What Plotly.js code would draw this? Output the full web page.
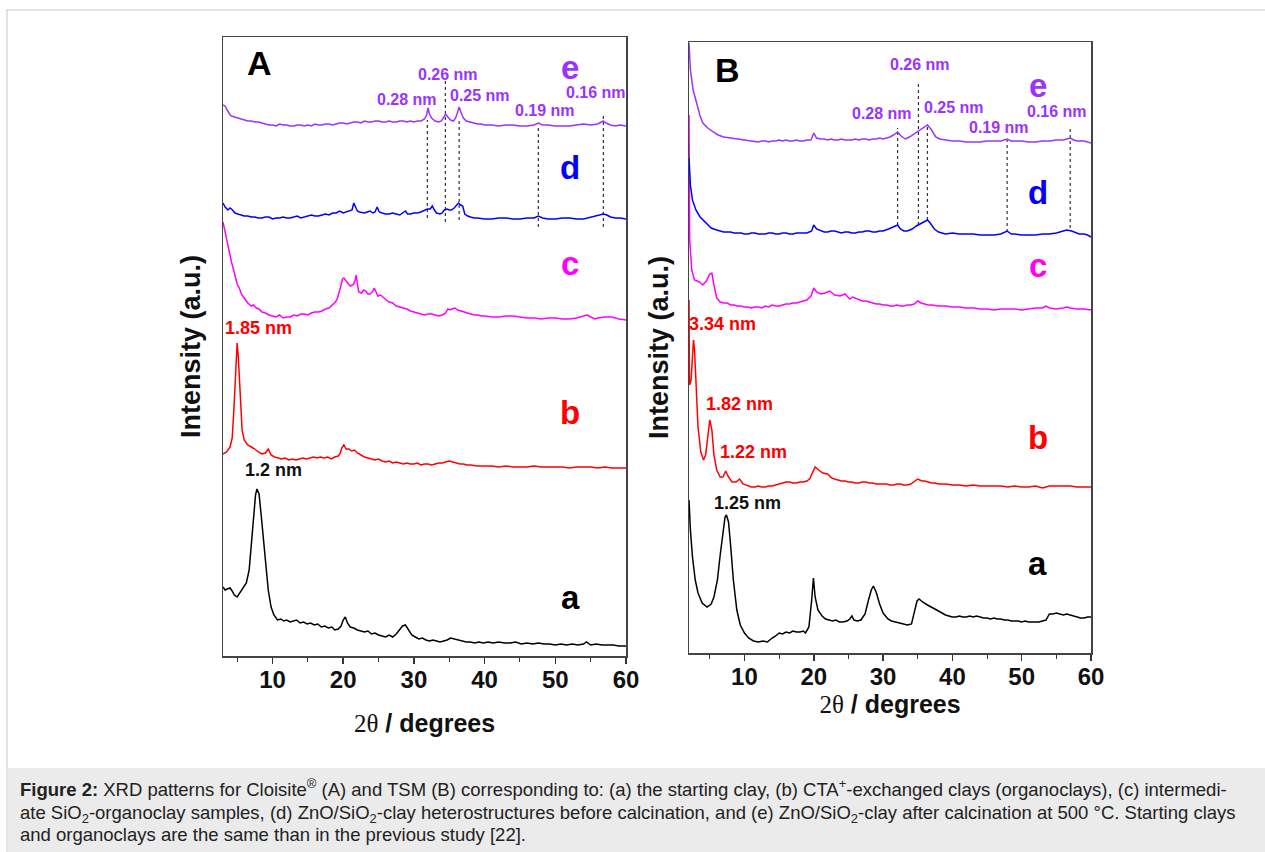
<!DOCTYPE html>
<html>
<head>
<meta charset="utf-8">
<script src="https://cdn.plot.ly/plotly-3.0.1.min.js"></script>
<style>
html,body{margin:0;padding:0;background:#fff;}
#chart{width:1265px;height:852px;}
</style>
</head>
<body>
<div id="chart"></div>
<script>
// ---------------- DATA (2θ in degrees, intensity in arbitrary units) ----------------
// Panel A : Cloisite
const A_a = [[3,69],[3.3,66],[3.6,67],[4,68],[4.3,65],[4.6,61],[5,59],[5.3,62],[5.7,66],[6,70],[6.3,73],[6.7,86],[7,111],[7.3,141],[7.6,161],[7.8,167],[8.1,162],[8.4,141],[8.7,116],[9,91],[9.4,66],[9.8,49],[10.2,41],[10.7,36],[11.2,37],[11.6,35],[12,36],[12.5,34],[13,35],[13.4,36],[13.9,33],[14.4,34],[14.9,32],[15.4,33],[15.9,31],[16.4,32],[16.9,29],[17.4,30],[17.9,28],[18.4,29],[18.8,26],[19.3,27],[19.7,30],[20,36],[20.3,39],[20.6,33],[21,29],[21.5,28],[22,26],[22.5,25],[23,24],[23.5,25],[24,22],[24.5,23],[25,21],[25.5,20],[26,19],[26.5,21],[27,19],[27.5,22],[28,26],[28.4,30],[28.8,31],[29.2,27],[29.7,21],[30.2,19],[30.7,17],[31.2,18],[31.7,16],[32.2,15],[32.7,16],[33.2,15],[33.7,14],[34.2,15],[34.7,16],[35.2,18],[35.7,17],[36.2,16],[36.8,15],[37.4,14],[38,14],[38.6,13],[39.2,14],[39.8,13],[40.5,14],[41.2,13],[42,14],[42.8,13],[43.6,13],[44.4,14],[45.2,12],[46,13],[46.8,12],[47.6,13],[48.4,12],[49.2,12],[50,11],[50.8,12],[51.6,11],[52.4,12],[53.2,11],[54,12],[54.4,14],[55,11],[55.8,12],[56.6,11],[57.4,11],[58.2,11],[59,10],[60,10]];
const A_b = [[3,202],[3.5,204],[4,209],[4.3,218],[4.5,241],[4.7,276],[4.85,301],[5,313],[5.15,301],[5.3,276],[5.5,246],[5.7,226],[6,216],[6.5,211],[7,209],[7.5,207],[8,204],[8.5,202],[9,203],[9.4,207],[9.8,201],[10.3,199],[10.8,198],[11.3,197],[11.8,198],[12.3,196],[12.8,197],[13.3,196],[13.8,197],[14.3,198],[14.8,197],[15.3,198],[15.8,199],[16.3,198],[16.8,199],[17.3,198],[17.8,199],[18.3,197],[18.8,199],[19.3,200],[19.6,203],[19.8,208],[20.1,211],[20.4,207],[20.8,207],[21.2,205],[21.6,206],[22,203],[22.5,201],[23,199],[23.5,198],[24,197],[24.5,196],[25,197],[25.5,195],[26,194],[26.5,195],[27,193],[27.5,194],[28,193],[28.5,192],[29,193],[29.5,192],[30,192],[30.5,193],[31,191],[31.5,192],[32,192],[32.5,191],[33,192],[33.5,193],[34,193],[34.5,194],[35,195],[35.5,194],[36,193],[36.5,192],[37,192],[37.5,191],[38,191],[39,190],[40,190],[41,190],[42,189],[43,190],[44,189],[45,189],[46,189],[47,190],[48,189],[49,189],[50,189],[51,189],[52,188],[53,189],[54,189],[55,189],[56,188],[57,189],[58,188],[59,188],[60,188]];
const A_c = [[3,434],[3.3,424],[3.5,418],[3.7,408],[3.9,404],[4.2,394],[4.5,386],[4.7,379],[5,372],[5.3,368],[5.6,362],[6,358],[6.5,353],[7,350],[7.3,351],[7.7,348],[8.1,347],[8.5,344],[9,343],[9.5,341],[10,340],[10.5,339],[11,341],[11.5,338],[12,339],[12.5,339],[13,341],[13.5,340],[14,342],[14.5,342],[15,341],[15.5,343],[16,344],[16.5,344],[17,345],[17.5,347],[18,348],[18.5,351],[18.9,354],[19.2,358],[19.5,365],[19.7,371],[19.9,377],[20.1,378],[20.4,375],[20.7,373],[21,370],[21.3,371],[21.5,372],[21.7,376],[21.85,381],[22,372],[22.2,364],[22.6,363],[22.9,366],[23.2,365],[23.5,362],[23.8,362],[24.1,364],[24.4,368],[24.6,364],[24.9,360],[25.3,361],[25.7,358],[26.1,356],[26.5,354],[27,353],[27.5,350],[28,349],[28.5,348],[29,347],[29.5,345],[30,344],[30.5,343],[31,342],[31.5,341],[32,342],[32.5,342],[33,341],[33.5,340],[34,341],[34.5,343],[34.8,347],[35.1,346],[35.4,347],[35.8,348],[36.2,346],[36.6,345],[37,344],[37.5,343],[38,342],[38.5,341],[39,341],[39.5,340],[40,340],[41,339],[42,339],[43,340],[44,340],[45,339],[46,338],[47,338],[48,337],[49,338],[50,338],[51,337],[52,337],[53,338],[54,340],[54.5,341],[55,339],[55.6,337],[56,338],[57,339],[58,339],[59,337],[60,336]];
const A_d = [[3,453],[3.3,449],[3.7,446],[4,448],[4.2,447],[4.5,444],[4.7,443],[5.1,442],[5.5,441],[6,440],[6.5,440],[7,439],[7.5,439],[8,438],[8.5,438],[9,439],[9.5,439],[10,437],[10.5,438],[11,438],[11.5,439],[12,438],[12.5,438],[13,439],[13.5,440],[14,438],[14.5,439],[15,440],[15.5,441],[16,440],[16.5,440],[17,441],[17.5,442],[18,441],[18.5,443],[19,443],[19.5,445],[20,443],[20.5,444],[21,445],[21.25,446],[21.5,453],[21.75,448],[22,445],[22.3,444],[22.7,443],[23,443],[23.4,444],[23.8,445],[24.2,443],[24.5,444],[24.8,449],[25.1,444],[25.5,443],[26,442],[26.5,442],[27,443],[27.5,442],[28,441],[28.4,443],[28.8,445],[29.1,442],[29.5,442],[30,443],[30.5,443],[31,444],[31.5,446],[31.9,447],[32.3,447],[32.6,450],[32.9,446],[33.2,443],[33.7,442],[34,443],[34.3,446],[34.7,447],[35,446],[35.3,446],[35.7,448],[36,450],[36.3,453],[36.6,451],[36.9,450],[37.2,442],[37.6,440],[38,439],[38.5,438],[39,438],[40,437],[41,437],[42,438],[43,438],[44,437],[45,437],[46,438],[47,438],[47.6,440],[48.2,438],[49,437],[50,437],[51,438],[52,438],[53,437],[54,437],[55,439],[55.6,440],[56.2,441],[56.8,442],[57.3,441],[57.8,439],[58.5,438],[59.2,438],[60,437]];
const A_e = [[3,551],[3.3,550],[3.5,547],[3.7,544],[4,541],[4.2,540],[4.6,539],[5,538],[5.5,537],[6,536],[6.5,535],[7,535],[7.5,534],[8,534],[8.5,533],[9,532],[9.5,531],[10,531],[10.5,530],[11,532],[11.5,531],[12,531],[12.5,530],[13,530],[13.5,531],[14,531],[14.5,530],[15,531],[15.5,530],[16,532],[16.5,531],[17,531],[17.5,532],[18,532],[18.5,531],[19,532],[19.5,533],[20,533],[20.5,532],[21,533],[21.5,534],[22,534],[22.5,533],[23,535],[23.5,534],[24,534],[24.5,535],[25,535],[25.5,534],[26,534],[26.5,535],[27,534],[27.5,534],[28,535],[28.5,535],[29,534],[29.5,535],[30,534],[30.5,535],[31,535],[31.5,537],[31.8,541],[32,548],[32.2,542],[32.5,538],[33,535],[33.5,534],[33.9,535],[34.2,538],[34.5,542],[34.8,539],[35.2,536],[35.6,535],[35.9,538],[36.1,542],[36.4,549],[36.7,543],[37,538],[37.4,535],[38,534],[38.5,533],[39,532],[39.5,532],[40,531],[41,531],[42,530],[43,531],[44,531],[45,530],[46,530],[47,531],[47.6,533],[48.2,531],[49,531],[50,530],[51,530],[52,530],[53,531],[54,532],[55,531],[56,532],[56.5,534],[56.8,535],[57.2,533],[57.8,531],[58.5,530],[59.2,531],[60,530]];

// Panel B : TSM
const B_a = [[2,153],[2.2,123],[2.5,96],[2.9,73],[3.3,60],[3.9,50],[4.6,46],[5.2,49],[5.6,56],[6.1,73],[6.5,98],[6.9,123],[7.2,136],[7.4,138],[7.7,131],[8,108],[8.4,73],[8.9,43],[9.4,28],[10,20],[10.6,15],[11.3,12],[12,11],[12.7,12],[13.3,11],[14,15],[14.5,17],[15,20],[15.5,19],[16,21],[16.5,20],[17,22],[17.5,21],[18,21],[18.5,22],[18.8,20],[19.3,26],[19.7,53],[19.95,75],[20.2,56],[20.6,43],[21.2,37],[21.7,34],[22.2,33],[22.7,32],[23.2,33],[23.7,31],[24.2,31],[24.8,32],[25.2,34],[25.5,37],[25.8,33],[26.3,32],[26.8,33],[27.4,39],[27.9,53],[28.3,63],[28.6,67],[29,61],[29.5,49],[30,40],[30.7,34],[31.2,32],[31.8,31],[32.5,30],[33,29],[33.5,28],[34.1,29],[34.5,41],[34.9,52],[35.2,54],[35.7,51],[36.4,48],[37,46],[37.5,44],[38,42],[38.5,40],[39,38],[39.5,37],[40,36],[40.5,36],[41,37],[41.5,36],[42,36],[42.5,37],[43,36],[43.5,37],[44,36],[44.5,35],[45,35],[45.5,34],[46,35],[46.5,34],[47,34],[47.5,33],[48,33],[48.5,32],[49,32],[49.5,32],[50,31],[50.5,32],[51,31],[51.5,31],[52,31],[52.5,31],[53,32],[53.5,33],[54,39],[54.5,39],[55,40],[55.5,39],[56,38],[56.5,39],[57,38],[57.5,37],[58,36],[58.5,35],[59,35],[59.5,36],[60,36]];
const B_b = [[2,353],[2.07,268],[2.3,273],[2.5,303],[2.65,313],[2.8,303],[3,268],[3.3,226],[3.7,201],[4.1,193],[4.4,198],[4.7,213],[5,233],[5.3,223],[5.6,198],[6,183],[6.5,176],[6.9,176],[7.3,182],[7.7,176],[8.2,171],[8.8,171],[9.3,174],[9.8,169],[10.5,167],[11,166],[11.5,166],[12,167],[12.5,166],[13,166],[13.5,167],[14,167],[14.5,168],[15,169],[15.5,170],[16,171],[16.5,171],[17,170],[17.5,170],[18,171],[18.5,171],[19,172],[19.4,174],[19.8,181],[20.2,186],[20.7,183],[21.3,180],[22,179],[22.6,175],[23,174],[23.5,173],[24,172],[24.5,172],[25,171],[25.5,171],[26,170],[26.5,170],[27,171],[27.5,171],[28,170],[28.5,170],[29,169],[29.5,169],[30,169],[30.5,169],[31,168],[31.5,168],[32,169],[32.5,169],[33,168],[33.5,168],[34,169],[34.4,171],[35,174],[35.6,172],[36,172],[36.5,171],[37,170],[37.5,170],[38,169],[39,169],[40,168],[41,168],[42,167],[43,168],[44,167],[45,167],[46,167],[47,167],[48,166],[49,167],[50,166],[51,166],[52,167],[53,165],[54,167],[55,167],[56,167],[57,167],[58,166],[59,166],[60,166]];
const B_c = [[2,538],[2.1,413],[2.4,383],[2.8,373],[3.2,372],[3.5,371],[4,368],[4.5,372],[5,379],[5.3,380],[5.6,368],[6,355],[6.5,351],[7,350],[7.5,350],[8,348],[8.5,348],[9,347],[9.5,347],[10,346],[10.5,346],[11,345],[11.5,346],[12,346],[12.5,345],[13,347],[13.5,346],[14,348],[14.5,347],[15,347],[15.5,348],[16,349],[16.5,349],[17,350],[17.5,350],[18,351],[18.5,352],[19,353],[19.6,357],[20,365],[20.4,361],[21,359],[21.6,360],[22.3,362],[23,358],[23.8,357],[24.5,359],[25.2,354],[25.6,356],[26,355],[26.5,353],[27,352],[27.5,352],[28,351],[28.5,350],[29,349],[29.5,349],[30,348],[30.5,348],[31,347],[31.5,347],[32,348],[32.5,347],[33,347],[33.5,348],[34,348],[34.5,349],[35,352],[35.5,350],[36,349],[36.5,348],[37,348],[38,347],[39,347],[40,346],[41,346],[42,345],[43,345],[44,344],[45,344],[46,343],[47,344],[48,344],[49,344],[50,343],[51,344],[52,345],[53,345],[53.5,347],[54,345],[55,344],[56,345],[56.5,346],[57,345],[58,344],[59,344],[60,343]];
const B_d = [[2,495],[2.2,468],[2.5,453],[3,443],[3.6,436],[4.4,431],[5.2,425],[6,423],[6.5,422],[7,421],[7.5,421],[8,421],[8.5,420],[9,420],[9.5,420],[10,419],[10.5,419],[11,420],[11.5,420],[12,419],[12.5,419],[13,419],[13.5,420],[14,420],[14.5,419],[15,419],[15.5,420],[16,420],[16.5,419],[17,419],[17.5,420],[18,420],[18.5,420],[19,420],[19.7,422],[20,428],[20.4,424],[21,422],[21.5,421],[22,421],[22.5,422],[23,422],[23.5,421],[24,420],[24.5,421],[25,421],[25.5,420],[26,420],[26.5,421],[27,421],[27.5,422],[28,422],[28.5,421],[29,421],[29.5,422],[30,422],[30.8,424],[31.5,426],[32.1,428],[32.5,424],[33,422],[33.5,422],[34.2,424],[34.8,427],[35.4,429],[36,431],[36.4,433],[36.8,430],[37.4,424],[38,421],[38.5,420],[39,419],[40,420],[41,419],[42,419],[43,419],[44,418],[45,418],[46,418],[47,419],[47.9,422],[48.5,419],[49,419],[50,418],[51,418],[52,418],[53,419],[54,419],[55,420],[55.5,421],[56,422],[56.5,423],[57.2,422],[57.8,420],[58.3,419],[59,419],[59.5,418],[60,416]];
const B_e = [[2,610],[2.2,583],[2.6,563],[3.2,546],[3.6,537],[4,530],[4.7,525],[5.5,521],[6.2,518],[7,516],[8,515],[9,514],[9.5,513],[10,513],[10.5,512],[11,512],[11.5,511],[12,511],[12.5,512],[13,512],[13.5,511],[14,512],[14.5,512],[15,513],[15.5,512],[16,513],[16.5,512],[17,512],[17.5,513],[18,512],[18.5,512],[19,513],[19.6,513],[20,520],[20.4,515],[21,514],[21.5,514],[22,513],[22.5,514],[23,513],[23.5,513],[24,514],[24.5,513],[25,513],[25.5,513],[26,514],[26.5,513],[27,514],[27.5,514],[28,513],[28.5,514],[29,514],[29.5,515],[30,514],[30.5,515],[31,516],[31.5,518],[32.1,521],[32.6,517],[33.2,514],[33.8,516],[34.5,519],[35.2,522],[35.8,525],[36.4,528],[37,523],[37.6,516],[38.2,514],[39,513],[40,512],[41,512],[42,511],[43,511],[44,511],[45,512],[46,512],[47,512],[47.9,514],[48.5,512],[49,512],[50,512],[51,511],[52,511],[53,512],[54,512],[55,513],[56,513],[56.5,514],[57,515],[57.5,513],[58,512],[59,512],[60,510]];

// Reflection markers (2θ of the dotted guide lines) and their vertical extents
const peakLabels = ["0.28 nm","0.26 nm","0.25 nm","0.19 nm","0.16 nm"];
const A_peaks = [31.9, 34.45, 36.4, 47.6, 56.8];
const A_lineTop = [536, 576, 538, 528, 540];
const A_lineBot = [438, 434, 436, 429, 429];
const B_peaks = [32.1, 35.1, 36.4, 47.9, 57.0];
const B_lineTop = [525, 570, 528, 515, 526];
const B_lineBot = [428, 428, 433, 421, 425];

// Label anchors in data coordinates
const A_peakLabelPos = [[29.06,557],[34.87,582],[39.4,561],[48.6,546],[55.7,564]];
const B_peakLabelPos = [[29.8,540],[35.3,589],[40.2,546],[46.7,526],[55.1,542]];
const sampleNames = ["a","b","c","d","e"];
const A_sampleY = [59,244,393,489,589];
const B_sampleY = [90,216,388,461,568];
const A_spacings = [["1.85 nm",7.96,328,"#FF0000"],["1.2 nm",10.2,186,"#111111"]];
const B_spacings = [["3.34 nm",6.9,329,"#FF0000"],["1.82 nm",9.24,249,"#FF0000"],["1.22 nm",11.26,201,"#FF0000"],["1.25 nm",10.4,150,"#111111"]];

const xTicks = [10,20,30,40,50,60];
const colors = {a:"#000000", b:"#FF0000", c:"#FF00FF", d:"#0000FF", e:"#9933FF"};

// ---------------- BUILD ----------------
const W = 1265, H = 852;
const FONT = "Arial, 'Liberation Sans', sans-serif";

function curve(pts, color, xa, ya, name){
  return {x: pts.map(p=>p[0]), y: pts.map(p=>p[1]), mode:"lines", type:"scatter",
          line:{color:color, width:1.5}, xaxis:xa, yaxis:ya, name:name, showlegend:false, hoverinfo:"skip"};
}
function guides(peaks, tops, bots, xa, ya){
  const x=[], y=[];
  peaks.forEach((p,i)=>{ x.push(p,p,null); y.push(bots[i],tops[i],null); });
  return {x:x, y:y, mode:"lines", type:"scatter", line:{color:"#333333", width:1.2, dash:"dot"},
          xaxis:xa, yaxis:ya, showlegend:false, hoverinfo:"skip"};
}

const traces = [
  guides(A_peaks, A_lineTop, A_lineBot, "x", "y"),
  curve(A_a, colors.a, "x", "y", "a"), curve(A_b, colors.b, "x", "y", "b"),
  curve(A_c, colors.c, "x", "y", "c"), curve(A_d, colors.d, "x", "y", "d"),
  curve(A_e, colors.e, "x", "y", "e"),
  guides(B_peaks, B_lineTop, B_lineBot, "x2", "y2"),
  curve(B_a, colors.a, "x2", "y2", "a"), curve(B_b, colors.b, "x2", "y2", "b"),
  curve(B_c, colors.c, "x2", "y2", "c"), curve(B_d, colors.d, "x2", "y2", "d"),
  curve(B_e, colors.e, "x2", "y2", "e")
];

const ann = [];
function addPanelText(xr, yr, peakPos, sampleY, sampleX, spacings, letter, letterPos){
  peakLabels.forEach((t,i)=>ann.push({xref:xr, yref:yr, x:peakPos[i][0], y:peakPos[i][1], text:t, showarrow:false,
     font:{family:FONT, size:16, color:colors.e, weight:"bold"}}));
  sampleNames.forEach((s,i)=>ann.push({xref:xr, yref:yr, x:sampleX, y:sampleY[i], text:s, showarrow:false,
     font:{family:FONT, size:33, color:colors[s], weight:"bold"}}));
  spacings.forEach(s=>ann.push({xref:xr, yref:yr, x:s[1], y:s[2], text:s[0], showarrow:false,
     font:{family:FONT, size:18, color:s[3], weight:"bold"}}));
  ann.push({xref:xr, yref:yr, x:letterPos[0], y:letterPos[1], text:letter, showarrow:false,
     font:{family:FONT, size:34, color:"#000", weight:"bold"}});
}
addPanelText("x","y",A_peakLabelPos,A_sampleY,52.1,A_spacings,"A",[8.1,593]);
addPanelText("x2","y2",B_peakLabelPos,B_sampleY,52.3,B_spacings,"B",[7.5,583]);

// caption
const capLines = [
  "<b>Figure 2:</b> XRD patterns for Cloisite<sup>®</sup> (A) and TSM (B) corresponding to: (a) the starting clay, (b) CTA<sup>+</sup>-exchanged clays (organoclays), (c) intermedi-",
  "ate SiO<sub>2</sub>-organoclay samples, (d) ZnO/SiO<sub>2</sub>-clay heterostructures before calcination, and (e) ZnO/SiO<sub>2</sub>-clay after calcination at 500 °C. Starting clays",
  "and organoclays are the same than in the previous study [22]."
];
const capY = [788, 814, 834];
capLines.forEach((t,i)=>ann.push({xref:"paper", yref:"paper", x:18/W, y:1-capY[i]/H, xanchor:"left", yanchor:"middle",
   text:t, showarrow:false, align:"left", font:{family:FONT, size:18.5, color:"#222"}}));

function xAxis(domain, range, standoff){
  return {domain:domain, range:range, tickvals:xTicks, ticks:"outside", ticklen:6, tickwidth:1.5, tickcolor:"#333",
    ticklabelstandoff:-4,
    minor:{dtick:5, tick0:0, ticks:"outside", ticklen:4, tickwidth:1, tickcolor:"#333"},
    showline:true, linecolor:"#444", linewidth:1.5, mirror:true, showgrid:false, zeroline:false,
    tickfont:{family:FONT, size:24, color:"#111", weight:"bold"},
    title:{text:'<span style="font-family:\'Liberation Serif\',\'Times New Roman\',serif;font-weight:normal">2θ</span> / degrees',
      font:{family:FONT, size:25, color:"#111", weight:"bold"}, standoff:standoff}};
}
function yAxis(domain, range, anchor, standoff){
  return {domain:domain, range:range, anchor:anchor, showticklabels:false, ticks:"", showline:true, linecolor:"#444",
    linewidth:1.5, mirror:true, showgrid:false, zeroline:false,
    title:{text:"Intensity (a.u.)", font:{family:FONT, size:27, color:"#111", weight:"bold"}, standoff:standoff}};
}

const layout = {
  width:W, height:H, margin:{l:0,r:0,t:0,b:0}, paper_bgcolor:"#fff", plot_bgcolor:"#fff", showlegend:false,
  xaxis: xAxis([223/W, 626/W], [3,60], 22),
  yaxis: yAxis([1-656/H, 1-37/H], [0,619], "x", 13),
  xaxis2: Object.assign(xAxis([689/W, 1091/W], [2,60], 3), {anchor:"y2"}),
  yaxis2: yAxis([1-653/H, 1-42/H], [0,611], "x2", 11),
  annotations: ann,
  shapes: [
    {type:"rect", xref:"paper", yref:"paper", x0:7/W, x1:1.01, y0:-0.01, y1:1-10/H, line:{color:"#d9d9d9", width:1.5}, layer:"below"},
    {type:"rect", xref:"paper", yref:"paper", x0:7.5/W, x1:1.01, y0:-0.01, y1:1-768/H, fillcolor:"#ebebeb", line:{width:0}, layer:"below"}
  ]
};
layout.xaxis.anchor = "y";

Plotly.newPlot("chart", traces, layout, {staticPlot:true, displayModeBar:false});
</script>
</body>
</html>
